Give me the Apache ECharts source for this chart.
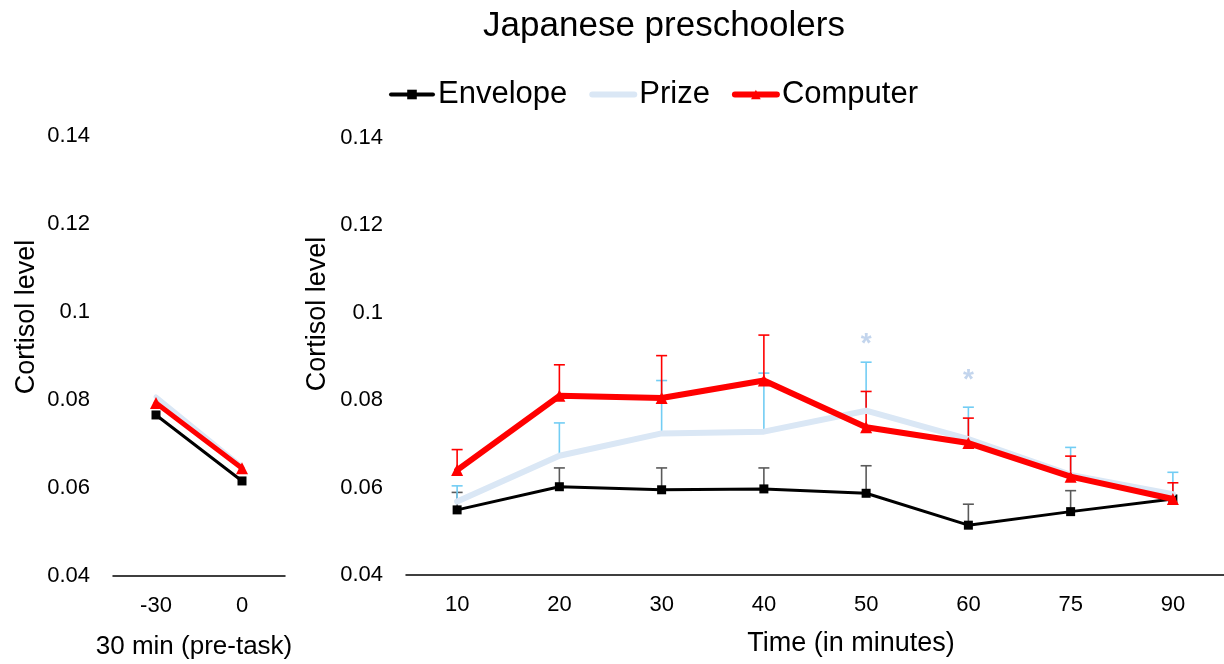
<!DOCTYPE html>
<html>
<head>
<meta charset="utf-8">
<script src="https://cdn.jsdelivr.net/npm/echarts@6/dist/echarts.min.js"></script>
<style>
html,body{margin:0;padding:0;background:#fff;}
#chart{width:1224px;height:664px;}
</style>
</head>
<body>
<div id="chart"></div>
<script>
// ---- data ----
const preCategories = ['-30', '0'];
const timeCategories = ['10', '20', '30', '40', '50', '60', '75', '90'];
const yTicks = [0.04, 0.06, 0.08, 0.1, 0.12, 0.14];

const preEnvelope = [0.0766, 0.0616];
const prePrize = [0.0807, 0.0648];
const preComputer = [0.0793, 0.0645];

const envelope = [0.0549, 0.0602, 0.0595, 0.0597, 0.0587, 0.0514, 0.0545, 0.0574];
const prize    = [0.0568, 0.0673, 0.0724, 0.0728, 0.0776, 0.0711, 0.0629, 0.0585];
const computer = [0.0640, 0.0810, 0.0805, 0.0845, 0.0738, 0.0702, 0.0625, 0.0574];

const envelopeSE = [0.0040, 0.0043, 0.0050, 0.0048, 0.0063, 0.0048, 0.0048, 0];
const prizeSE    = [0.0036, 0.0075, 0.0121, 0.0134, 0.0111, 0.0073, 0.0063, 0.0050];
const computerSE = [0.0047, 0.0071, 0.0097, 0.0104, 0.0082, 0.0057, 0.0047, 0.0037];

// significance markers (category index, value position)
const asterisks = [[4, 0.0945], [5, 0.0862]];

// ---- styling ----
const FONT = "'Liberation Sans', Arial, sans-serif";
const C_ENV = '#000000', C_PRIZE = '#dae7f5', C_COMP = '#ff0000';
const E_ENV = '#5a5a5a', E_PRIZE = '#72cdf4', E_COMP = '#ff0000';

function errSeries(name, means, ses, color) {
  return {
    type: 'custom', name: name, xAxisIndex: 1, yAxisIndex: 1, z: 1, silent: true,
    renderItem: function (params, api) {
      const x = api.value(0), m = api.value(1), t = api.value(2);
      if (!(t > m)) return null;
      const p0 = api.coord([x, m]);
      const p1 = api.coord([x, t]);
      const hw = 5.5;
      return {
        type: 'group', children: [
          { type: 'line', shape: { x1: p0[0], y1: p0[1], x2: p1[0], y2: p1[1] }, style: { stroke: color, lineWidth: 1.6 } },
          { type: 'line', shape: { x1: p1[0] - hw, y1: p1[1], x2: p1[0] + hw, y2: p1[1] }, style: { stroke: color, lineWidth: 1.6 } }
        ]
      };
    },
    data: means.map(function (m, i) { return [i, m, m + ses[i]]; })
  };
}

function yAxisCfg(gi) {
  return {
    type: 'value', gridIndex: gi, min: yTicks[0], max: yTicks[yTicks.length - 1], interval: 0.02,
    axisLine: { show: false }, axisTick: { show: false }, splitLine: { show: false },
    axisLabel: { fontSize: 22, color: '#000', fontFamily: FONT, margin: 23,
      formatter: function (v) { return String(+v.toFixed(2)); } }
  };
}
function xAxisCfg(gi, cats) {
  return {
    type: 'category', gridIndex: gi, data: cats, boundaryGap: true,
    axisLine: { lineStyle: { color: '#000', width: 1.5 } },
    axisTick: { show: false },
    axisLabel: { fontSize: 22, color: '#000', fontFamily: FONT, margin: 19 }
  };
}
function lineSeries(name, gi, data, color, width, symbol, size, z) {
  return {
    type: 'line', name: name, xAxisIndex: gi, yAxisIndex: gi, data: data, z: z,
    symbol: symbol, symbolSize: size, showSymbol: symbol !== 'none',
    lineStyle: { color: color, width: width, cap: 'round' },
    itemStyle: { color: color },
    emphasis: { disabled: true }, animation: false
  };
}

const chart = echarts.init(document.getElementById('chart'), null, { renderer: 'canvas' });
chart.setOption({
  animation: false,
  backgroundColor: '#fff',
  textStyle: { fontFamily: FONT },
  legend: {
    data: [
      { name: 'Envelope', lineStyle: { width: 4 } },
      { name: 'Prize', lineStyle: { width: 6 }, itemStyle: { opacity: 0 } },
      { name: 'Computer', lineStyle: { width: 6 } }
    ],
    left: 384, top: 74, itemWidth: 42, itemHeight: 12, itemGap: 22,
    textStyle: { fontSize: 31, color: '#000', fontFamily: FONT }
  },
  grid: [
    { left: 113, top: 136, width: 172, height: 440 },
    { left: 406, top: 138, width: 830, height: 437 }
  ],
  xAxis: [xAxisCfg(0, preCategories), xAxisCfg(1, timeCategories)],
  yAxis: [yAxisCfg(0), yAxisCfg(1)],
  graphic: [
    { type: 'text', x: 664, y: 26, style: { text: 'Japanese preschoolers', font: "35px " + FONT, fill: '#000', align: 'center', verticalAlign: 'middle' } },
    { type: 'text', x: 27, y: 317, rotation: Math.PI / 2, style: { text: 'Cortisol level', font: "27px " + FONT, fill: '#000', align: 'center', verticalAlign: 'middle' } },
    { type: 'text', x: 318, y: 314, rotation: Math.PI / 2, style: { text: 'Cortisol level', font: "27px " + FONT, fill: '#000', align: 'center', verticalAlign: 'middle' } },
    { type: 'text', x: 194, y: 647, style: { text: '30 min (pre-task)', font: "26px " + FONT, fill: '#000', align: 'center', verticalAlign: 'middle' } },
    { type: 'text', x: 851, y: 644, style: { text: 'Time (in minutes)', font: "27px " + FONT, fill: '#000', align: 'center', verticalAlign: 'middle' } }
  ],
  series: [
    lineSeries('Envelope', 0, preEnvelope, C_ENV, 3, 'rect', 9, 2),
    lineSeries('Prize', 0, prePrize, C_PRIZE, 5, 'none', 0, 3),
    lineSeries('Computer', 0, preComputer, C_COMP, 5, 'triangle', 12, 4),
    errSeries('envErr', envelope, envelopeSE, E_ENV),
    errSeries('prizeErr', prize, prizeSE, E_PRIZE),
    errSeries('compErr', computer, computerSE, E_COMP),
    lineSeries('Envelope', 1, envelope, C_ENV, 3, 'rect', 9, 2),
    lineSeries('Prize', 1, prize, C_PRIZE, 6, 'none', 0, 3),
    lineSeries('Computer', 1, computer, C_COMP, 6, 'triangle', 12, 4),
    {
      type: 'scatter', name: 'sig', xAxisIndex: 1, yAxisIndex: 1, data: asterisks,
      symbolSize: 1, itemStyle: { color: 'rgba(0,0,0,0)' }, silent: true, z: 5,
      label: { show: true, position: 'inside', formatter: '*', fontSize: 28, fontWeight: 'bold', color: '#b4cbe8', fontFamily: FONT, offset: [0, 7] }
    }
  ]
});
</script>
</body>
</html>
